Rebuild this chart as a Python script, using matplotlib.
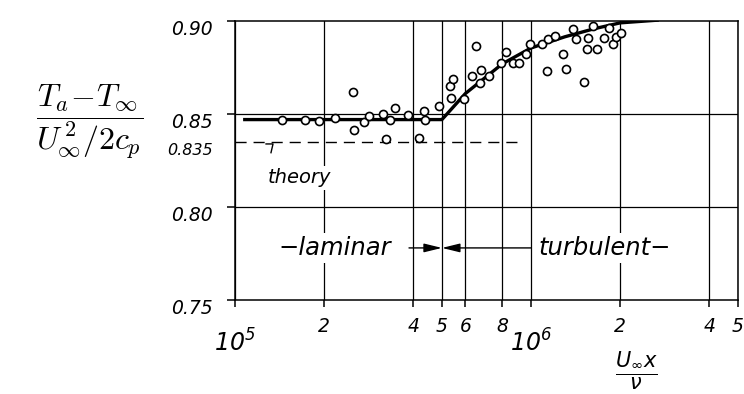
import matplotlib
matplotlib.use('Agg')
import matplotlib.pyplot as plt
import matplotlib.transforms as mtransforms

# ---------------- data ----------------
laminar_x = [1.445e5, 1.72e5, 1.92e5, 2.17e5, 2.50e5, 2.53e5, 2.73e5, 2.84e5,
             3.15e5, 3.33e5, 3.46e5, 3.24e5, 3.84e5, 4.18e5, 4.34e5, 4.37e5]
laminar_y = [0.8467, 0.8467, 0.8463, 0.8481, 0.8616, 0.8414, 0.8458, 0.8488,
             0.8502, 0.8470, 0.8533, 0.8367, 0.8493, 0.8370, 0.8516, 0.8470]

turb_x = [4.87e5, 5.36e5, 5.31e5, 5.43e5, 5.94e5, 6.30e5, 6.54e5, 6.77e5, 6.73e5,
          7.20e5, 7.89e5, 8.20e5, 8.67e5, 9.12e5, 9.60e5, 9.92e5, 1.09e6, 1.137e6,
          1.207e6, 1.134e6, 1.28e6, 1.31e6, 1.39e6, 1.42e6, 1.51e6, 1.55e6, 1.56e6,
          1.62e6, 1.67e6, 1.77e6, 1.83e6, 1.89e6, 1.93e6, 2.02e6]
turb_y = [0.8541, 0.8586, 0.8651, 0.8686, 0.8583, 0.8703, 0.8865, 0.8737, 0.8668,
          0.8706, 0.8774, 0.8835, 0.8774, 0.8774, 0.8821, 0.8875, 0.8876, 0.8902,
          0.8921, 0.8732, 0.8822, 0.8742, 0.8958, 0.8905, 0.8672, 0.8847, 0.8909,
          0.8971, 0.8847, 0.8909, 0.8962, 0.8875, 0.8914, 0.8935]

curve_x = [1.065e5, 5.0e5, 6.0e5, 8.0e5, 1.0e6, 1.3e6, 1.63e6, 2.0e6, 2.7e6]
curve_y = [0.847, 0.847, 0.861, 0.877, 0.8855, 0.8915, 0.8958, 0.899, 0.9005]

theory_x = [1.0e5, 9.1e5]
theory_y = [0.835, 0.835]

ytick_values = [0.75, 0.80, 0.835, 0.85, 0.90]
ytick_labels = ['0.75', '0.80', '0.835', '0.85', '0.90']
xminor_values = [2e5, 4e5, 5e5, 6e5, 8e5, 2e6, 4e6, 5e6]
xminor_labels = ['2', '4', '5', '6', '8', '2', '4', '5']
xmajor_values = [1e5, 1e6]
xmajor_labels = [r'$10^{5}$', r'$10^{6}$']
grid_y = [0.80, 0.85]

transition_x = 5e5
laminar_arrow_start = 3.87e5
turbulent_arrow_start = 1.0e6
regime_y = 0.778

# ---------------- figure ----------------
plt.rcParams['font.family'] = ['DejaVu Sans']
plt.rcParams['mathtext.fontset'] = 'custom'
plt.rcParams['mathtext.rm'] = 'DejaVu Sans:italic'
plt.rcParams['mathtext.it'] = 'DejaVu Sans:italic'
plt.rcParams['mathtext.bf'] = 'DejaVu Sans:italic:bold'

fig = plt.figure(figsize=(7.44, 3.94), dpi=100)
ax = fig.add_axes([235 / 744, 1 - 300 / 394, 503 / 744, 279 / 394])
ax.set_xscale('log')
ax.set_xlim(1e5, 5e6)
ax.set_ylim(0.75, 0.90)
ax.set_axisbelow(True)

for s in ax.spines.values():
    s.set_linewidth(1.1)
    s.set_color('black')

# y ticks
ax.set_yticks(ytick_values)
ax.set_yticklabels(ytick_labels, fontstyle='italic', fontsize=13.5)
ax.tick_params(axis='y', direction='out', length=6, width=1.1, pad=10)
yticks = ax.yaxis.get_major_ticks()
yticks[ytick_values.index(0.835)].tick1line.set_visible(False)
yticks[ytick_values.index(0.835)].label1.set_fontsize(11.5)
off = mtransforms.ScaledTranslation(0, -5 / 72, fig.dpi_scale_trans)
for lab in ax.get_yticklabels():
    lab.set_transform(lab.get_transform() + off)

# x ticks
ax.set_xticks(xmajor_values)
ax.set_xticklabels(xmajor_labels, fontsize=17)
ax.set_xticks(xminor_values, minor=True)
ax.set_xticklabels(xminor_labels, minor=True, fontstyle='italic', fontsize=13.5)
ax.tick_params(axis='x', which='major', direction='out', length=5, width=1.1, pad=16)
ax.tick_params(axis='x', which='minor', direction='out', length=5, width=1.1, pad=7)

# grid
ax.grid(which='both', axis='x', color='black', linewidth=0.9)
for gy in grid_y:
    ax.axhline(gy, color='black', linewidth=0.9, zorder=0.8)

# theory line
ax.plot(theory_x, theory_y, color='black', linewidth=1.0, dashes=(8, 5), zorder=2)

# main curve
ax.plot(curve_x, curve_y, color='black', linewidth=2.4, solid_capstyle='butt', zorder=3)

# data points
ax.plot(laminar_x + turb_x, laminar_y + turb_y, linestyle='none', marker='o',
        markersize=5.8, markerfacecolor='white', markeredgecolor='black',
        markeredgewidth=1.2, zorder=4)

# labels inside
bbox = dict(facecolor='white', edgecolor='none', pad=2)
ax.text(1.29e5, 0.8156, 'theory', fontstyle='italic', fontsize=14,
        ha='left', va='center', bbox=bbox, zorder=5)
ax.plot([1.273e5, 1.344e5, 1.323e5], [0.8339, 0.8339, 0.8292], color='black',
        linewidth=1.0, zorder=5)
ax.text(1.40e5, regime_y, '\u2212laminar', fontstyle='italic', fontsize=17.5,
        ha='left', va='center', bbox=bbox, zorder=5)
ax.text(1.056e6, regime_y, 'turbulent\u2212', fontstyle='italic', fontsize=17.5,
        ha='left', va='center', bbox=bbox, zorder=5)
arrow = dict(arrowstyle='-|>,head_length=0.9,head_width=0.22', color='black',
             lw=1.0, shrinkA=0, shrinkB=0, mutation_scale=12)
ax.annotate('', xy=(transition_x, regime_y), xytext=(laminar_arrow_start, regime_y),
            arrowprops=arrow, zorder=5)
ax.annotate('', xy=(transition_x, regime_y), xytext=(turbulent_arrow_start, regime_y),
            arrowprops=arrow, zorder=5)

# axis titles
fig.text(90 / 744, 1 - 122 / 394,
         r'$\dfrac{T_a\!-\!T_\infty}{U_{\infty}^{\,2}/2c_p}$',
         fontsize=23, math_fontfamily='cm', ha='center', va='center')
fig.text(636 / 744, 1 - 371 / 394, r'$\dfrac{U_{\infty} x}{\nu}$',
         fontsize=15, ha='center', va='center')

fig.savefig('out.png', dpi=100, facecolor='white')
